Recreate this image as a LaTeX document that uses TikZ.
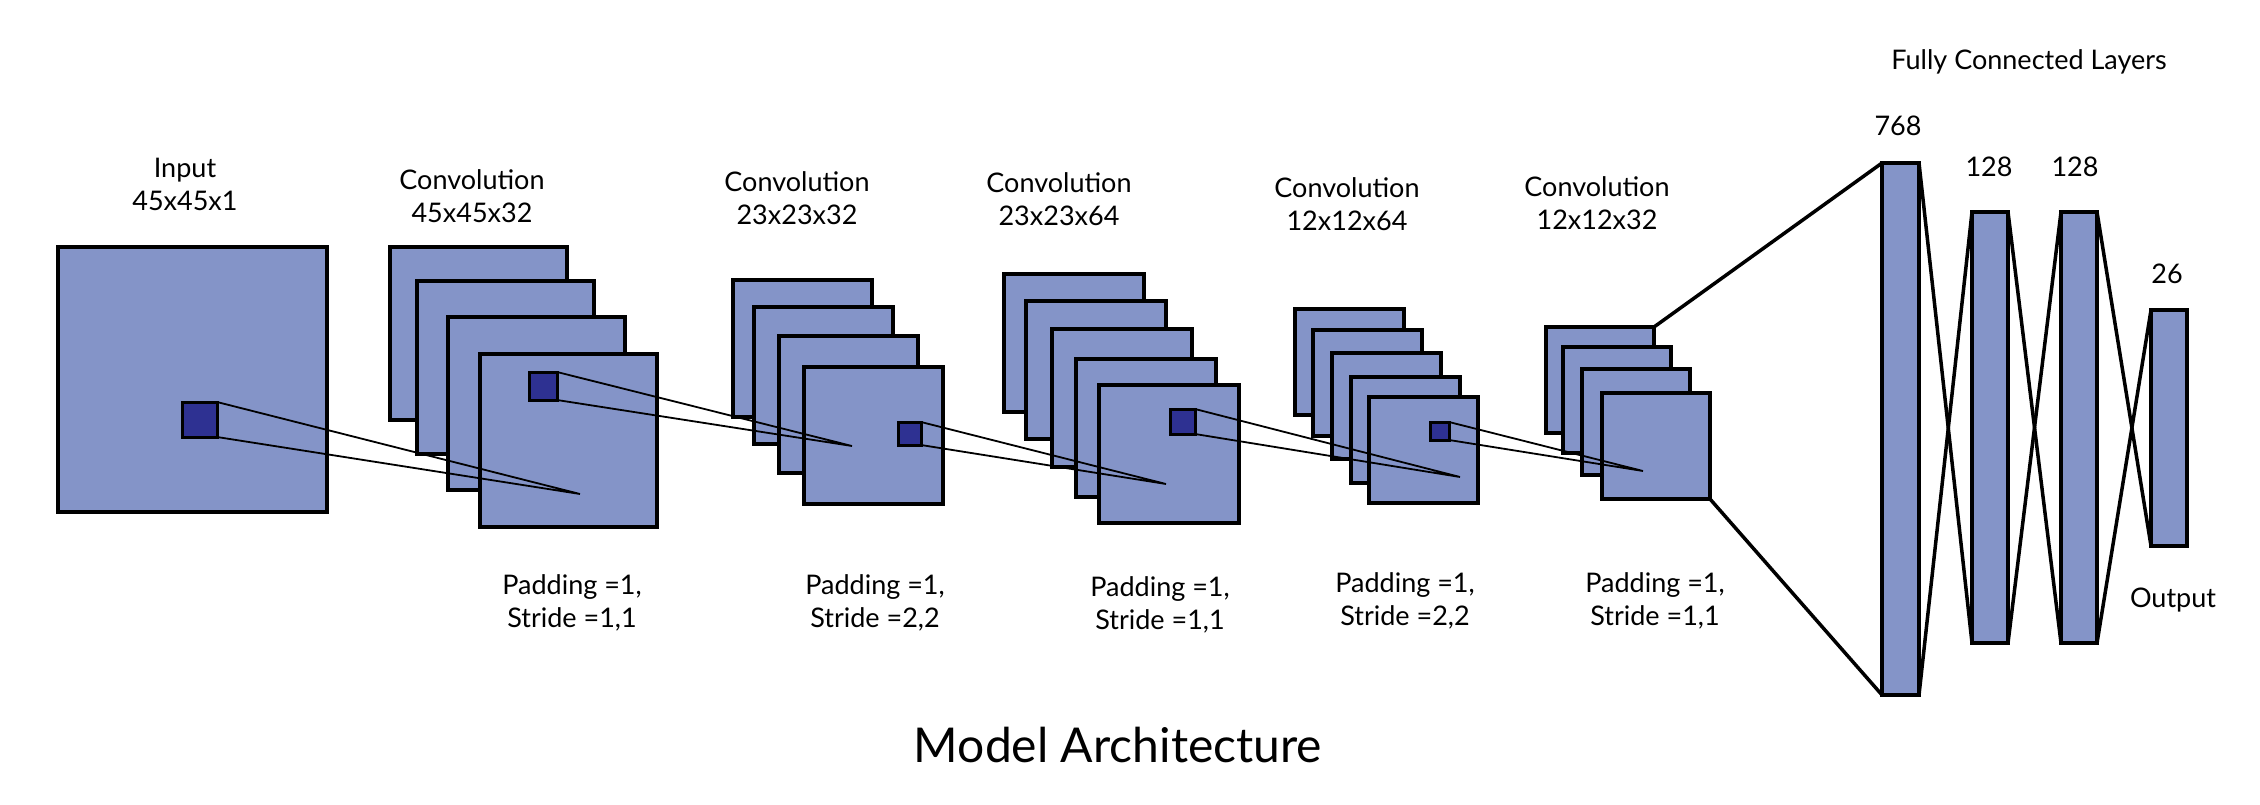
\documentclass[tikz,border=0pt]{standalone}
\usepackage{fontspec}
\setmainfont{Lato}
\definecolor{fmapc}{RGB}{132,148,200}
\definecolor{kernc}{RGB}{46,49,146}
\begin{document}
\begin{tikzpicture}[x=1pt,y=-1pt,
  fmap/.style={draw=black, fill=fmapc, line width=3.5pt, inner sep=0pt, outer sep=0pt, anchor=north west},
  kern/.style={draw=black, fill=kernc, line width=3pt, inner sep=0pt, outer sep=0pt, anchor=north west},
  c1/.style={fmap, minimum width=177pt, minimum height=173pt},
  c2/.style={fmap, minimum width=139pt, minimum height=137pt},
  c3/.style={fmap, minimum width=140pt, minimum height=138pt},
  c4/.style={fmap, minimum width=109pt, minimum height=106pt},
  c5/.style={fmap, minimum width=108pt, minimum height=106pt},
  fc/.style={fmap, minimum width=36pt},
  link/.style={line width=1.8pt},
  fcl/.style={line width=3.5pt},
  lbl/.style={font=\fontsize{27}{33}\selectfont, align=center, inner sep=0pt},
]
\useasboundingbox (0,0) rectangle (2260,805);

% input
\node[fmap, minimum width=269pt, minimum height=265pt] (in) at (58,247) {};
\node[kern, minimum width=35pt, minimum height=35pt] (k0) at (182,402) {};

% conv 1
\node[c1] (c1a) at (390,247) {};
\node[c1] (c1b) at (417,281) {};
\node[c1] (c1c) at (448,317) {};
\node[c1] (c1d) at (480,354) {};
\node[kern, minimum width=28pt, minimum height=28pt] (k1) at (529,372) {};

% conv 2
\node[c2] (c2a) at (733,280) {};
\node[c2] (c2b) at (754,307) {};
\node[c2] (c2c) at (779,336) {};
\node[c2] (c2d) at (804,367) {};
\node[kern, minimum width=23pt, minimum height=23pt] (k2) at (898,422) {};

% conv 3
\node[c3] (c3a) at (1004,274) {};
\node[c3] (c3b) at (1026,301) {};
\node[c3] (c3c) at (1052,329) {};
\node[c3] (c3d) at (1076,359) {};
\node[c3] (c3e) at (1099,385) {};
\node[kern, minimum width=25pt, minimum height=25pt] (k3) at (1170,409) {};

% conv 4
\node[c4] (c4a) at (1295,309) {};
\node[c4] (c4b) at (1313,330) {};
\node[c4] (c4c) at (1332,353) {};
\node[c4] (c4d) at (1351,377) {};
\node[c4] (c4e) at (1369,397) {};
\node[kern, minimum width=19pt, minimum height=18pt] (k4) at (1430,422) {};

% conv 5
\node[c5] (c5a) at (1546,327) {};
\node[c5] (c5b) at (1563,347) {};
\node[c5] (c5c) at (1582,369) {};
\node[c5] (c5d) at (1602,393) {};

% fully connected
\node[fc, minimum width=37pt, minimum height=532pt] (f1) at (1882,163) {};
\node[fc, minimum height=431pt] (f2) at (1972,212) {};
\node[fc, minimum height=431pt] (f3) at (2061,212) {};
\node[fc, minimum height=236pt] (f4) at (2151,310) {};

% convergence points
\coordinate (p1) at (580,494);
\coordinate (p2) at (852,446);
\coordinate (p3) at (1166,484);
\coordinate (p4) at (1460,477);
\coordinate (p5) at (1643,471);

\draw[link] (k0.north east) -- (p1) -- (k0.south east);
\draw[link] (k1.north east) -- (p2) -- (k1.south east);
\draw[link] (k2.north east) -- (p3) -- (k2.south east);
\draw[link] (k3.north east) -- (p4) -- (k3.south east);
\draw[link] (k4.north east) -- (p5) -- (k4.south east);

\draw[fcl] (c5a.north east) -- (f1.north west);
\draw[fcl] (c5d.south east) -- (f1.south west);
\draw[fcl] (f1.north east) -- (f2.south west);
\draw[fcl] (f1.south east) -- (f2.north west);
\draw[fcl] (f2.north east) -- (f3.south west);
\draw[fcl] (f2.south east) -- (f3.north west);
\draw[fcl] (f3.north east) -- (f4.south west);
\draw[fcl] (f3.south east) -- (f4.north west);

% labels
\node[lbl] (tin) at (185,184) {Input\\45x45x1};
\node[lbl] (t1) at (472,196) {Convolution\\45x45x32};
\node[lbl] (t2) at (797,198) {Convolution\\23x23x32};
\node[lbl] (t3) at (1059,199) {Convolution\\23x23x64};
\node[lbl] (t4) at (1347,204) {Convolution\\12x12x64};
\node[lbl] (t5) at (1597,203) {Convolution\\12x12x32};

\node[lbl] (pd1) at (572,603) {Padding =1,\\Stride =1,1};
\node[lbl] (pd2) at (875,603) {Padding =1,\\Stride =2,2};
\node[lbl] (pd3) at (1160,605) {Padding =1,\\Stride =1,1};
\node[lbl] (pd4) at (1405,601) {Padding =1,\\Stride =2,2};
\node[lbl] (pd5) at (1655,601) {Padding =1,\\Stride =1,1};

\node[lbl] (tfc) at (2029,62) {Fully Connected Layers};
\node[lbl] (n768) at (1898,126) {768};
\node[lbl] (n128a) at (1989,167) {128};
\node[lbl] (n128b) at (2075,167) {128};
\node[lbl] (n26) at (2167,274) {26};
\node[lbl] (tout) at (2173,600) {Output};

\node[font=\fontsize{48}{52}\selectfont, inner sep=0pt] (title) at (1118,745) {Model Architecture};
\end{tikzpicture}
\end{document}
